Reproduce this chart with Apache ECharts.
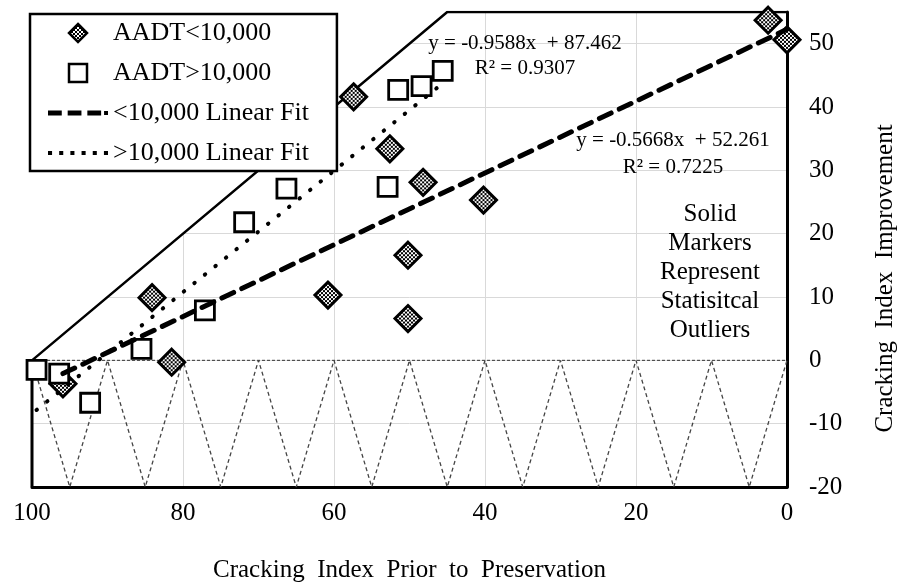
<!DOCTYPE html>
<html>
<head>
<meta charset="utf-8">
<script src="https://cdn.jsdelivr.net/npm/echarts@6/dist/echarts.min.js"></script>
<style>
  html, body { margin: 0; padding: 0; background: #fff; }
  #chart { width: 904px; height: 587px; }
</style>
</head>
<body>
<div id="chart"></div>
<script>
// Cracking index before preservation vs. improvement afterwards
const lowPrior  = [57.4, 52.6, 48.2, 40.2, 50.2, 50.2, 60.8, 84.1, 81.5, 95.9, 2.5, 0];
const lowGain   = [41.6, 33.4, 28.1, 25.3, 16.6, 6.6, 10.3, 9.9, -0.3, -3.7, 53.7, 50.6];
const highPrior = [99.4, 96.4, 92.3, 85.5, 77.1, 71.9, 66.3, 52.9, 51.5, 48.4, 45.6];
const highGain  = [-1.5, -2.1, -6.7, 1.8, 7.9, 21.8, 27.1, 27.4, 42.7, 43.3, 45.7];

// Linear fit coefficients [slope, intercept, R²]
const lowFit  = [-0.5668, 52.261, 0.7225];
const highFit = [-0.9588, 87.462, 0.9307];

// Maximum possible improvement (index cannot exceed 100) and the plot ceiling
const limitX = [100, 45, 0];
const limitY = [0, 55, 55];

// Saw-tooth hatching of the negative-improvement zone
const sawX = [100, 95, 90, 85, 80, 75, 70, 65, 60, 55, 50, 45, 40, 35, 30, 25, 20, 15, 10, 5, 0];
const sawY = [0, -20, 0, -20, 0, -20, 0, -20, 0, -20, 0, -20, 0, -20, 0, -20, 0, -20, 0, -20, 0];

const seriesNames = ['AADT<10,000', 'AADT>10,000', '<10,000 Linear Fit', '>10,000 Linear Fit'];
const noteLines = ['Solid', 'Markers', 'Represent', 'Statisitcal', 'Outliers'];

const FONT = '"Liberation Serif", "Times New Roman", serif';
const DIAMOND = 26;

const pairs = (xs, ys) => xs.map((x, i) => [x, ys[i]]);
const fitLine = (xs, fit) => {
  const a = Math.max(...xs), b = Math.min(...xs);
  return [[a, fit[0] * a + fit[1]], [b, fit[0] * b + fit[1]]];
};
const eqText = fit => 'y = ' + fit[0].toFixed(4) + 'x  + ' + fit[1].toFixed(3);
const r2Text = fit => 'R\u00B2 = ' + fit[2].toFixed(4);

// Cross-hatched fill for the diamond markers
const hatch = document.createElement('canvas');
hatch.width = 4; hatch.height = 4;
const hc = hatch.getContext('2d');
hc.fillStyle = '#fff';
hc.fillRect(0, 0, 4, 4);
hc.fillStyle = '#000';
for (let i = 0; i < 4; i++) { hc.fillRect(i, i, 1, 1); hc.fillRect(3 - i, i, 1, 1); }
// scatter symbols are unit paths scaled by size/2, so the pattern is scaled back
const hatchSymbol = { image: hatch, repeat: 'repeat', scaleX: 2 / DIAMOND, scaleY: 2 / DIAMOND };
const hatchLegend = { image: hatch, repeat: 'repeat' };

// Legend icons as paths so they keep their aspect inside the wide icon slot
const diamondIcon = 'path://M0,-1L1,0L0,1L-1,0Z';
const squareIcon = 'path://M0,0L1,0L1,1L0,1Z';
const dashIcon = 'path://M0,0.5L14,0.5L14,5.5L0,5.5Z M20,0.5L34,0.5L34,5.5L20,5.5Z '
  + 'M40,0.5L54,0.5L54,5.5L40,5.5Z M57,1L61,1L61,5L57,5Z';
const dotIcon = 'path://M0,1L4,1L4,5L0,5Z M11,1L15,1L15,5L11,5Z M22,1L26,1L26,5L22,5Z '
  + 'M33,1L37,1L37,5L33,5Z M44,1L48,1L48,5L44,5Z M55,1L59,1L59,5L55,5Z';

const chart = echarts.init(document.getElementById('chart'), null, { renderer: 'canvas' });

const txt = (text, x, y, size) => ({
  type: 'text', x: x, y: y, z: 10,
  style: {
    text: text, fill: '#000', fontFamily: FONT, fontSize: size,
    align: 'center', verticalAlign: 'middle',
    textAlign: 'center', textVerticalAlign: 'middle', lineHeight: 29
  }
});

chart.setOption({
  animation: false,
  backgroundColor: '#fff',
  grid: { left: 32, right: 117, top: 12, bottom: 100, outerBoundsMode: 'none', containLabel: false },
  xAxis: {
    type: 'value', min: 0, max: 100, interval: 20, inverse: true,
    axisLine: { show: true, onZero: false, lineStyle: { color: '#000', width: 3 } },
    axisTick: { show: false },
    splitLine: { show: true, showMaxLine: false, lineStyle: { color: '#d9d9d9', width: 1 } },
    axisLabel: { color: '#000', fontFamily: FONT, fontSize: 25, margin: 14 },
    name: 'Cracking  Index  Prior  to  Preservation',
    nameLocation: 'middle', nameGap: 71,
    nameTextStyle: { color: '#000', fontFamily: FONT, fontSize: 25 }
  },
  yAxis: {
    type: 'value', position: 'right', min: -20, max: 55, interval: 10,
    axisLine: { show: true, onZero: false, lineStyle: { color: '#000', width: 3 } },
    axisTick: { show: false },
    splitLine: { show: true, lineStyle: { color: '#d9d9d9', width: 1 } },
    axisLabel: { color: '#000', fontFamily: FONT, fontSize: 25, margin: 22, showMaxLabel: false },
    name: 'Cracking  Index  Improvement',
    nameLocation: 'middle', nameGap: 86, nameRotate: 90,
    nameTextStyle: { color: '#000', fontFamily: FONT, fontSize: 25, padding: [0, 58, 0, 0] }
  },
  legend: {
    orient: 'vertical', left: 30, top: 14,
    itemWidth: 60, itemHeight: 18, itemGap: 14,
    symbolKeepAspect: true,
    backgroundColor: '#fff', borderColor: '#000', borderWidth: 2.5,
    padding: [6, 28, 5, 18],
    textStyle: { color: '#000', fontFamily: FONT, fontSize: 26 },
    data: [
      { name: seriesNames[0], icon: diamondIcon, itemStyle: { color: hatchLegend, borderColor: '#000', borderWidth: 2.5 } },
      { name: seriesNames[1], icon: squareIcon, itemStyle: { color: '#fff', borderColor: '#000', borderWidth: 2.5 } },
      { name: seriesNames[2], icon: dashIcon, itemStyle: { color: '#000', borderWidth: 0 } },
      { name: seriesNames[3], icon: dotIcon, itemStyle: { color: '#000', borderWidth: 0 } }
    ]
  },
  graphic: [
    txt(eqText(highFit), 525, 43, 21),
    txt(r2Text(highFit), 525, 68, 21),
    txt(eqText(lowFit), 673, 140, 21),
    txt(r2Text(lowFit), 673, 167, 21),
    txt(noteLines.join('\n'), 710, 272, 25)
  ],
  series: [
    {
      type: 'line', data: pairs(limitX, limitY), symbol: 'none', silent: true, z: 1,
      lineStyle: { color: '#000', width: 2.5 },
      areaStyle: { color: '#fff', opacity: 1, origin: 'end' }
    },
    {
      type: 'line', data: [[100, 0], [0, 0]], symbol: 'none', silent: true, z: 1,
      lineStyle: { color: '#333', width: 1, type: [3, 2] }
    },
    {
      type: 'line', data: pairs(sawX, sawY), symbol: 'none', silent: true, z: 1,
      lineStyle: { color: '#444', width: 1.3, type: [4, 3] }
    },
    {
      type: 'line', data: [[100, 0], [100, -20]], symbol: 'none', silent: true, z: 1,
      lineStyle: { color: '#000', width: 3 }
    },
    {
      name: seriesNames[0], type: 'scatter', data: pairs(lowPrior, lowGain), z: 3,
      symbol: 'diamond', symbolSize: DIAMOND,
      itemStyle: { color: hatchSymbol, borderColor: '#000', borderWidth: 3, opacity: 1 }
    },
    {
      name: seriesNames[1], type: 'scatter', data: pairs(highPrior, highGain), z: 3,
      symbol: 'rect', symbolSize: 19,
      itemStyle: { color: '#fff', borderColor: '#000', borderWidth: 2.8, opacity: 1 }
    },
    {
      name: seriesNames[2], type: 'line', data: fitLine(lowPrior, lowFit), z: 4,
      symbol: 'none', silent: true, color: '#000',
      lineStyle: { color: '#000', width: 5, type: [13, 9], cap: 'round' }
    },
    {
      name: seriesNames[3], type: 'line', data: fitLine(highPrior, highFit), z: 4,
      symbol: 'none', silent: true, color: '#000',
      lineStyle: { color: '#000', width: 4, type: [0.5, 13], cap: 'round' }
    }
  ]
});
</script>
</body>
</html>
